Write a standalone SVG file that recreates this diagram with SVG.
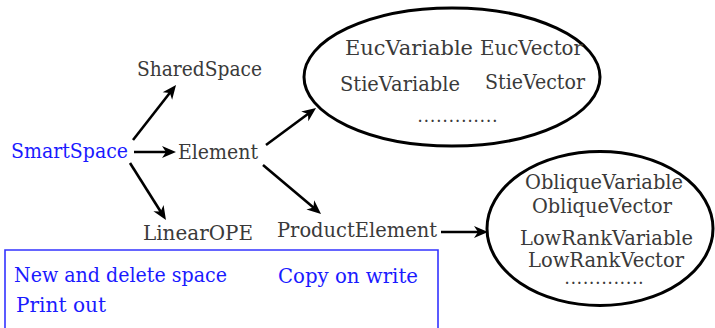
<svg xmlns="http://www.w3.org/2000/svg" width="715" height="328" viewBox="0 0 715 328">
<style>
text{font-family:'DejaVu Serif','Liberation Serif',serif;font-size:21px}
.t{fill:#3a3a3a}
.b{fill:#1a1aff}
.d{font-size:12px;font-weight:bold;fill:#3a3a3a}
.e{fill:none;stroke:#000;stroke-width:3}
.c{fill:none;stroke:#000;stroke-width:2.6}
</style>
<defs>
<marker id="ah" viewBox="0 -7 16 14" markerWidth="16" markerHeight="14" refX="6" refY="0" orient="auto" markerUnits="userSpaceOnUse" overflow="visible">
<path d="M14,0 L0,-6 L4,0 L0,6 Z" fill="#000"/>
</marker>
</defs>
<rect x="0" y="0" width="715" height="328" fill="#fff"/>
<g id="legend">
<path d="M5,330 V250 H438 V330" fill="none" stroke="#3333ff" stroke-width="1.6"/>
<text class="b" x="14" y="282" textLength="213" lengthAdjust="spacingAndGlyphs">New and delete space</text>
<text class="b" x="278" y="283" textLength="140" lengthAdjust="spacingAndGlyphs">Copy on write</text>
<text class="b" x="16" y="312" textLength="90" lengthAdjust="spacingAndGlyphs">Print out</text>
</g>
<g id="smartspace"><text class="b" x="11" y="158" textLength="117" lengthAdjust="spacingAndGlyphs">SmartSpace</text></g>
<g id="sharedspace"><text class="t" x="137" y="76" textLength="125" lengthAdjust="spacingAndGlyphs">SharedSpace</text></g>
<g id="element"><text class="t" x="178" y="159" textLength="80" lengthAdjust="spacingAndGlyphs">Element</text></g>
<g id="linearope"><text class="t" x="143" y="240" textLength="110" lengthAdjust="spacingAndGlyphs">LinearOPE</text></g>
<g id="productelement"><text class="t" x="277" y="237" textLength="160" lengthAdjust="spacingAndGlyphs">ProductElement</text></g>
<g id="euc-stie">
<ellipse class="e" cx="452" cy="77" rx="148" ry="69"/>
<text class="t" x="345" y="55" textLength="128" lengthAdjust="spacingAndGlyphs">EucVariable</text>
<text class="t" x="480" y="55" textLength="103" lengthAdjust="spacingAndGlyphs">EucVector</text>
<text class="t" x="340" y="91" textLength="120" lengthAdjust="spacingAndGlyphs">StieVariable</text>
<text class="t" x="485" y="89" textLength="100" lengthAdjust="spacingAndGlyphs">StieVector</text>
<text class="d" x="418" y="122" textLength="79" lengthAdjust="spacing">.............</text>
</g>
<g id="oblique-lowrank">
<ellipse class="e" cx="600" cy="228.5" rx="113" ry="77"/>
<text class="t" x="525" y="189" textLength="158" lengthAdjust="spacingAndGlyphs">ObliqueVariable</text>
<text class="t" x="532" y="213" textLength="140" lengthAdjust="spacingAndGlyphs">ObliqueVector</text>
<text class="t" x="520" y="245" textLength="173" lengthAdjust="spacingAndGlyphs">LowRankVariable</text>
<text class="t" x="528" y="267" textLength="156" lengthAdjust="spacingAndGlyphs">LowRankVector</text>
<text class="d" x="565" y="284" textLength="78" lengthAdjust="spacing">.............</text>
</g>
<g id="connectors">
<line class="c" x1="133" y1="140" x2="171.1" y2="91.3" marker-end="url(#ah)"/>
<line class="c" x1="134" y1="152" x2="168" y2="152" marker-end="url(#ah)"/>
<line class="c" x1="130" y1="163" x2="161.7" y2="213.2" marker-end="url(#ah)"/>
<line class="c" x1="266" y1="145" x2="309.6" y2="112.8" marker-end="url(#ah)"/>
<line class="c" x1="263" y1="165" x2="314.9" y2="208.8" marker-end="url(#ah)"/>
<line class="c" x1="441" y1="232" x2="480" y2="232" marker-end="url(#ah)"/>
</g>
</svg>
